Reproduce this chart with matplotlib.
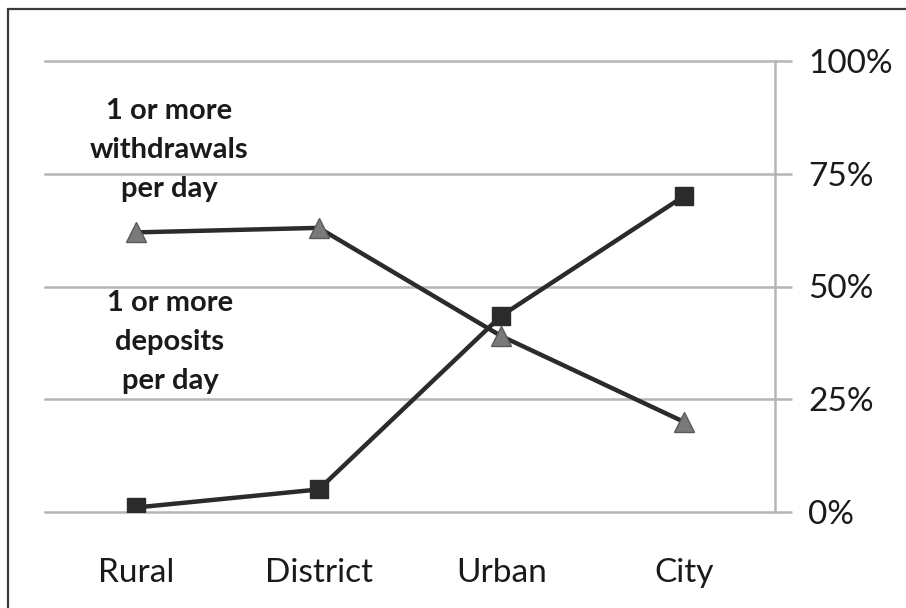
import matplotlib
matplotlib.use("Agg")
import matplotlib.pyplot as plt
from matplotlib.patches import Rectangle

categories = ["Rural", "District", "Urban", "City"]
withdrawals = [62, 63, 39, 20]
deposits = [1, 5, 43.5, 70]
ytick_values = [0, 25, 50, 75, 100]
ytick_labels = ["0%", "25%", "50%", "75%", "100%"]

W, H = 906, 608
fig = plt.figure(figsize=(W / 100, H / 100), dpi=100)
fig.patch.set_facecolor("white")

# outer frame
fig.add_artist(Rectangle((8 / W, -0.01), 1.0, 1 - 9 / H + 0.01, transform=fig.transFigure,
                         fill=False, edgecolor="#3a3a3a", linewidth=1.6))

left, right, bottom, top = 45 / W, 775 / W, 1 - 512 / H, 1 - 61 / H
ax = fig.add_axes([left, bottom, right - left, top - bottom])
ax.set_xlim(-0.5, len(categories) - 0.5)
ax.set_ylim(0, 100)

grid_c = "#b5b5b5"
for v in ytick_values:
    ax.axhline(v, color=grid_c, linewidth=1.8, zorder=1, clip_on=False)

for s in ["top", "left", "bottom"]:
    ax.spines[s].set_visible(False)
ax.spines["right"].set_color(grid_c)
ax.spines["right"].set_linewidth(1.8)

ax.yaxis.tick_right()
ax.set_yticks(ytick_values)
ax.set_yticklabels(ytick_labels)
ax.tick_params(axis="y", length=12, width=1.8, color=grid_c, pad=12,
               labelsize=24, labelcolor="#1a1a1a")
ax.set_xticks(range(len(categories)))
ax.set_xticklabels(categories)
ax.tick_params(axis="x", length=0, pad=33, labelsize=24, labelcolor="#1a1a1a")
for lab in ax.get_xticklabels() + ax.get_yticklabels():
    lab.set_fontfamily("Lato")

x = range(len(categories))
ax.plot(x, withdrawals, color="#2b2b2b", linewidth=3.2, zorder=3,
        marker="^", markersize=15, markerfacecolor="#7a7a7a",
        markeredgecolor="#5a5a5a", markeredgewidth=1)
ax.plot(x, deposits, color="#2b2b2b", linewidth=3.2, zorder=4,
        marker="s", markersize=12.5, markerfacecolor="#2b2b2b",
        markeredgecolor="#2b2b2b")

lab_kw = dict(ha="center", va="center", fontsize=21, fontweight="bold",
              family="Lato", color="#1a1a1a", linespacing=1.6,
              transform=fig.transFigure)
fig.text(169 / W, 1 - 150 / H, "1 or more\nwithdrawals\nper day", **lab_kw)
fig.text(170 / W, 1 - 342 / H, "1 or more\ndeposits\nper day", **lab_kw)

fig.savefig("out.png", dpi=100, facecolor="white")
